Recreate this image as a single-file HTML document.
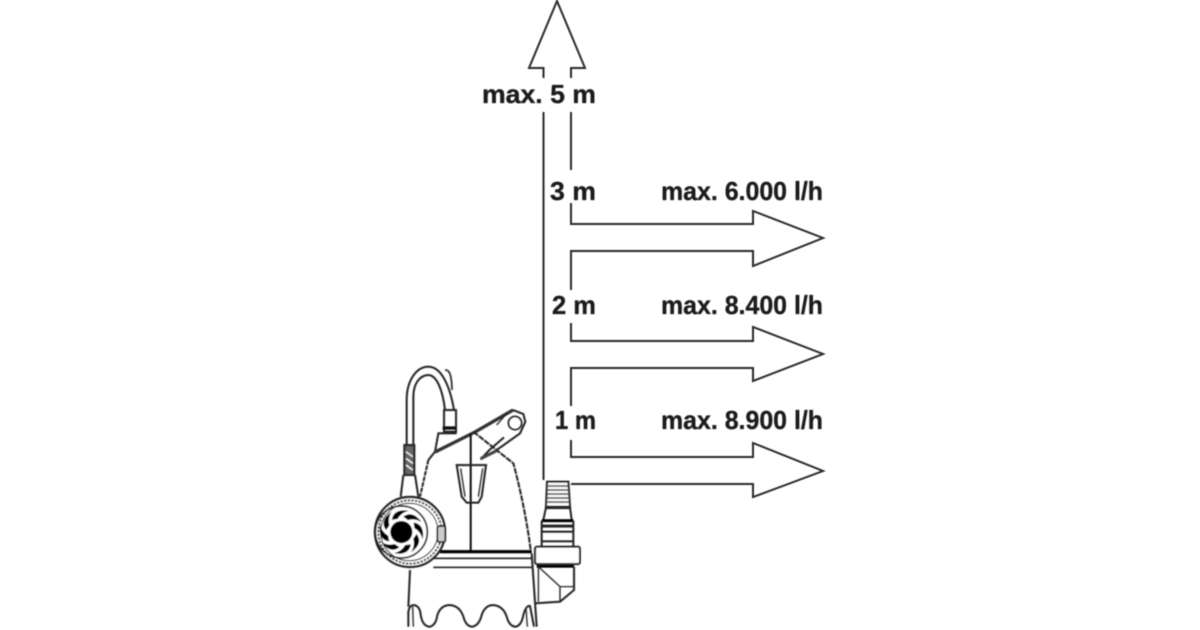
<!DOCTYPE html>
<html>
<head>
<meta charset="utf-8">
<style>
html,body{margin:0;padding:0;background:#fff}
svg{display:block}
text{font-family:"Liberation Sans",sans-serif;font-weight:bold;font-size:26px;fill:#1c1c1c;stroke:#1c1c1c;stroke-width:.35px}
</style>
</head>
<body>
<svg width="1200" height="630" viewBox="0 0 1200 630" xmlns="http://www.w3.org/2000/svg">
<defs><filter id="b" x="-5%" y="-5%" width="110%" height="110%"><feGaussianBlur stdDeviation="0.6"/></filter></defs>
<g filter="url(#b)">
<g fill="none" stroke="#2a2a2a" stroke-width="2">
<path d="M543.5 78V68H529L557 1L585 68H571V78"/>
<path d="M543.5 112V480"/>
<path d="M571 112V170"/>
<path d="M571 203V224H753V211L823 238L753 266V251H571V290"/>
<path d="M571 323V341H753V327L823 354L753 381V368H571V406"/>
<path d="M571 440V457H753V443L823 471L753 497V484H571"/>
</g>
<text x="482" y="103" textLength="114" lengthAdjust="spacingAndGlyphs">max. 5 m</text>
<text x="550" y="200" textLength="46" lengthAdjust="spacingAndGlyphs">3 m</text>
<text x="552" y="314" textLength="44" lengthAdjust="spacingAndGlyphs">2 m</text>
<text x="555" y="429" textLength="41" lengthAdjust="spacingAndGlyphs">1 m</text>
<text x="661" y="200" textLength="162" lengthAdjust="spacingAndGlyphs">max. 6.000 l/h</text>
<text x="661" y="314" textLength="162" lengthAdjust="spacingAndGlyphs">max. 8.400 l/h</text>
<text x="661" y="429" textLength="162" lengthAdjust="spacingAndGlyphs">max. 8.900 l/h</text>

<g transform="translate(350 350) scale(0.33333)" fill="none" stroke="#222" stroke-width="6">
<!-- hose -->
<path d="M170 285V150C170 90 200 50 235 50C275 50 300 110 312 180"/>
<path d="M190 285V140C190 100 210 75 235 75C260 75 278 120 285 180"/>
<path d="M285 60C300 58 305 80 306 120" stroke-width="5"/>
<rect x="282" y="180" width="36" height="65" stroke-width="6"/>
<path d="M278 234H318" stroke-width="10" stroke="#111"/>
<!-- strain relief -->
<rect x="163" y="285" width="30" height="90" fill="#666" stroke="#222"/>
<path d="M168 305L188 320M168 325L188 340M168 345L188 360" stroke="#fff" stroke-width="4"/>
<path d="M160 375L152 440M195 375L205 440"/>
<!-- body -->
<path d="M235 330L210 440" stroke-dasharray="14 3"/>
<path d="M235 330L255 305L265 250H320"/>
<path d="M255 306L375 246L489 180" stroke-width="10" stroke="#333"/>
<path d="M370 245L490 340Q525 470 542 600" stroke-dasharray="18 3"/>
<!-- float clip -->
<path d="M489 180L520 192L526 215L510 250L440 300L392 328L418 300L462 262" stroke-width="6"/>
<path d="M440 225L470 190" stroke-width="4"/>
<circle cx="495" cy="219" r="20" stroke-width="5"/>
<path d="M392 326L440 302" stroke-width="9" stroke="#444"/>
<!-- float -->
<path d="M362 250V605" stroke-width="6" stroke="#111"/>
<path d="M320 345H408L395 440L385 458H350L335 440Z" stroke-width="6"/>
<path d="M332 355L345 440M398 355L385 440" stroke-width="4"/>
<!-- base -->
<path d="M270 605H545" stroke-width="10" stroke="#000"/>
<path d="M250 625H545M250 652H545" stroke-width="5"/>
<path d="M180 660L175 770"/>
<path d="M545 610L560 830"/>
<path d="M175 830V785Q178 765 192 765Q210 768 212 795Q218 830 240 830Q258 825 262 795Q272 765 300 765Q330 768 340 800Q348 830 368 830Q388 825 395 795Q405 765 430 765Q460 768 470 800Q478 830 498 830Q515 825 520 795Q528 765 540 768L552 830"/>
<path d="M188 770L190 830M528 775L532 830" stroke-width="4"/>
<!-- wheel -->
<circle cx="180" cy="546" r="105" fill="#fff" stroke-width="7"/>
<circle cx="180" cy="546" r="95" stroke-width="5" stroke-dasharray="7 4"/>
<circle cx="178" cy="546" r="86" stroke-width="3"/>
<circle cx="154" cy="546" r="78" stroke-width="5"/>
<g fill="#000" stroke="none" transform="translate(154 546)">
<circle r="33"/>
<path id="bl" d="M6 -46Q34 -66 60 -30Q40 -42 20 -36Z"/>
<path transform="rotate(45)" d="M6 -46Q34 -66 60 -30Q40 -42 20 -36Z"/>
<path transform="rotate(90)" d="M6 -46Q34 -66 60 -30Q40 -42 20 -36Z"/>
<path transform="rotate(135)" d="M6 -46Q34 -66 60 -30Q40 -42 20 -36Z"/>
<path transform="rotate(180)" d="M6 -46Q34 -66 60 -30Q40 -42 20 -36Z"/>
<path transform="rotate(225)" d="M6 -46Q34 -66 60 -30Q40 -42 20 -36Z"/>
<path transform="rotate(270)" d="M6 -46Q34 -66 60 -30Q40 -42 20 -36Z"/>
<path transform="rotate(315)" d="M6 -46Q34 -66 60 -30Q40 -42 20 -36Z"/>
</g>
<rect x="262" y="528" width="24" height="48" rx="6" fill="#ccc" stroke-width="5"/>
<!-- outlet -->
<path d="M591 395H655L660 470H588Z" fill="#fff"/>
<path d="M592 408H655M592 420H656M592 432H657M592 444H658M592 456H658" stroke-width="5" stroke="#555"/>
<path d="M588 472L580 510M660 472L665 510M585 474H660" stroke-width="6"/>
<path d="M575 512H670" stroke-width="9" stroke="#000"/>
<path d="M575 528H670" stroke-width="9" stroke="#222"/>
<path d="M575 545H670M575 574H670"/>
<path d="M575 512V590M670 512V590"/>
<rect x="555" y="590" width="135" height="52" rx="6" fill="#fff" stroke-width="6"/>
<path d="M560 649H672" stroke-width="8" stroke="#000"/>
<path d="M672 650V720L630 755L555 760"/>
<path d="M565 650L630 710H672M630 710V755" stroke-width="4"/>
<path d="M565 650V755" stroke-width="4"/>
</g>
</g>
</svg>
</body>
</html>
